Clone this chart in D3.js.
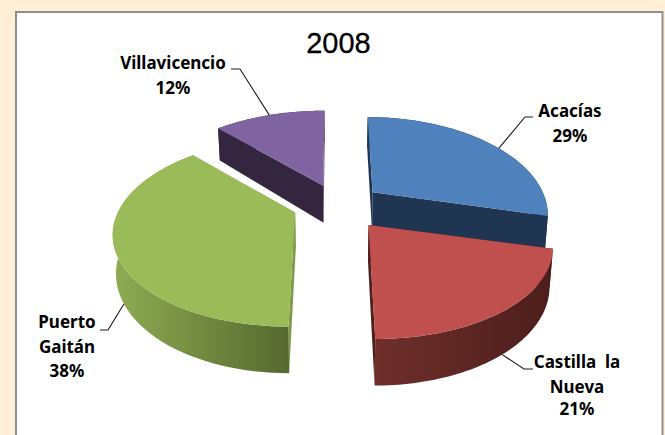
<!DOCTYPE html>
<html><head><meta charset="utf-8">
<script src="https://cdn.jsdelivr.net/npm/d3@7"></script>
<style>html,body{margin:0;padding:0;background:#feefd6}svg{display:block}</style>
</head><body><svg id="c" width="665" height="435"></svg>
<script>
const title = "2008";
const categories = ["Acacías", "Castilla la Nueva", "Puerto Gaitán", "Villavicencio"];
const percents = [29, 21, 38, 12];
const labelLines = [["Acacías","29%"],["Castilla  la","Nueva","21%"],["Puerto","Gaitán","38%"],["Villavicencio","12%"]];
const topColors = ["#4f81bd","#c0504d","#9bbb59","#8064a2"];
const sideColors = ["#1f3552","#4f1f1c","#7f9a49","#35263f"];
const wallStops = [["#1f3552","#1f3552"],["#6f2f2b","#4c1e1b"],["#8fac52","#56682f"],["#35263f","#35263f"]];

// layout of the exploded pie seen in perspective
const W=665,H=435, cx=337, cy=206.5, explodeX=45, explodeY=23.4;
const rx=181, tiltY=90.5, persp=0.206, vpX=332, skew=0.7, depth=37, botScale=0.985;
const apexNudge=[[0,0],[4,0],[0,-2.5],[3,1]], widthScale=[0.94,0.99,0.98,0.985];
// label layout: text anchor, elbow end and knee of each leader
const labelX=[570,577,67,173], labelY=[117,368,328,69], lineGap=[25,[25,22],[25,24],25];
const leaderEnd=[[533,117],[533,369],[100,330],[231,69]], leaderKnee=[[525,117],[524,369],[108,330],[240,69]];
const anchorFrac=[0.55,0.5,0.44,0.5];

const svg=d3.select("#c");
const defs=svg.append("defs");
svg.append("rect").attr("width",W).attr("height",H).attr("fill","#feefd6");
svg.append("path").attr("d",`M16,${H+2}V12H662.5V${H+2}`).attr("fill","#fff").attr("stroke","#8f8f8f").attr("stroke-width",2);

const pie=d3.pie().sort(null)(percents);

function apex(a,i){ return [cx+explodeX*Math.sin(a)+apexNudge[i][0], cy-explodeY*Math.cos(a)+apexNudge[i][1]]; }
function project(c,a,r,bottom,i){
  const X=r*Math.sin(a), Z=-r*Math.cos(a);
  const s=1/(1-persp*Z);
  let x=c[0]+X*rx*widthScale[i]*s+(c[0]-vpX)*skew*(s-1);
  let y=c[1]+tiltY*Z*s;
  if(bottom){ x=vpX+(x-vpX)*botScale; y+=depth*s; }
  return [x,y];
}
const line=d3.line();
const arcAngles=(a0,a1)=>d3.range(0,61).map(i=>a0+(a1-a0)*i/60);

const order=[0,3,2,1];
order.forEach(i=>{
  const d=pie[i], bis=(d.startAngle+d.endAngle)/2, c=apex(bis,i);
  const g=svg.append("g");
  const grad=defs.append("linearGradient").attr("id","w"+i)
    .attr("gradientUnits","userSpaceOnUse");
  const angs=arcAngles(d.startAngle,d.endAngle);
  const topRim=angs.map(a=>project(c,a,1,false,i));
  const botRim=angs.map(a=>project(c,a,1,true,i));
  const xs=topRim.map(p=>p[0]);
  grad.attr("x1",d3.min(xs)).attr("x2",d3.max(xs)).attr("y1",0).attr("y2",0);
  grad.selectAll("stop").data(wallStops[i]).join("stop")
    .attr("offset",(s,k)=>k).attr("stop-color",s=>s);
  const ctop=project(c,0,0,false,i), cbot=project(c,0,0,true,i);
  [d.startAngle,d.endAngle].forEach(a=>{
    g.append("path").attr("d",line([ctop,project(c,a,1,false,i),project(c,a,1,true,i),cbot])+"Z")
      .attr("fill",sideColors[i]);
  });
  g.append("path").attr("d",line(topRim.concat(botRim.slice().reverse()))+"Z").attr("fill",`url(#w${i})`);
  g.append("path").attr("d",line([ctop].concat(topRim))+"Z").attr("fill",topColors[i]);
});

// leaders and labels
pie.forEach((d,i)=>{
  const c=apex((d.startAngle+d.endAngle)/2,i);
  const a=d.startAngle+(d.endAngle-d.startAngle)*anchorFrac[i];
  const front=Math.cos(a)<0;
  const p=project(c,a,1,front,i);
  svg.append("path").attr("d",line([leaderEnd[i],leaderKnee[i],p])).attr("fill","none")
    .attr("stroke","#1a1a1a").attr("stroke-width",1.1);
  let y=labelY[i];
  labelLines[i].forEach((t,k)=>{
    if(k>0){ const gp=lineGap[i]; y+=Array.isArray(gp)?gp[k-1]:gp; }
    svg.append("text").attr("x",labelX[i]).attr("y",y).attr("text-anchor","middle")
      .attr("font-family","'Noto Sans',sans-serif").attr("font-weight","bold")
      .attr("font-size",17).attr("fill","#000").style("white-space","pre").text(t);
  });
});

svg.append("text").attr("x",338.5).attr("y",53).attr("text-anchor","middle")
  .attr("font-family","'Liberation Sans',Arial,sans-serif").attr("font-size",29).attr("fill","#000")
  .attr("stroke","#000").attr("stroke-width",0.3).text(title);
</script></body></html>
